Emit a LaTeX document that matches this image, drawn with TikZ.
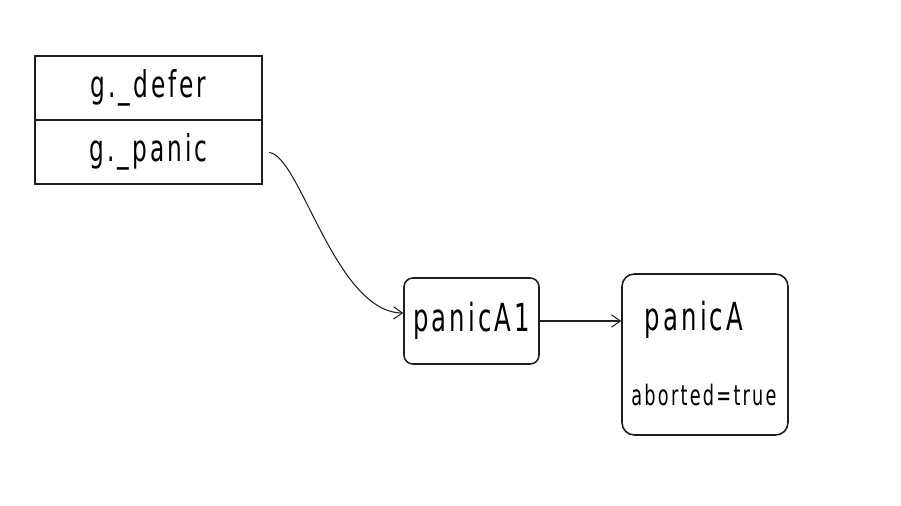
\documentclass[tikz,border=0pt]{standalone}
\usepackage{fontspec}
\setmainfont[FakeStretch=0.63,LetterSpace=8]{DejaVu Sans}
\usetikzlibrary{arrows.meta,positioning}
\usepackage{xcolor}
\definecolor{inkgray}{gray}{0.12}

\begin{document}
\begin{tikzpicture}[x=0.02cm, y=-0.02cm,
    slot/.style={draw=inkgray, line width=1.1pt, rectangle, minimum width=4.54cm, minimum height=1.28cm, inner sep=0pt, font=\fontsize{21}{23}\selectfont},
    panicbox/.style={draw=inkgray, line width=0.9pt, rectangle, rounded corners=5pt, inner sep=0pt},
    conn/.style={draw=inkgray, line width=0.6pt, -{Straight Barb[length=5pt,width=7pt]}}]
  \useasboundingbox (0,0) rectangle (901,506);

  % goroutine fields
  \node[slot] (defer) at (148.5,88) {g.\_defer};
  \node[slot, below=-1.1pt of defer] (panic) {g.\_panic};

  % panic chain
  \node[panicbox, minimum width=2.7cm, minimum height=1.72cm, font=\fontsize{22}{24}\selectfont] (panicA1) at (471.5,321) {panicA1};
  \node[panicbox, minimum width=3.32cm, minimum height=3.22cm, rounded corners=7pt] (panicA) at (705,354.5) {};
  \node[font=\fontsize{22}{24}\selectfont] (nameA) at (694,320) {panicA};
  \node[font=\fontsize{16}{18}\selectfont] (abortA) at (704,395) {aborted=true};

  \draw[conn, shorten <=3.5pt] (panic.east) .. controls (300,155) and (335,312) .. ([yshift=0.16cm]panicA1.west);
  \draw[conn] (panicA1.east) -- (panicA1.east -| panicA.west);
\end{tikzpicture}
\end{document}
